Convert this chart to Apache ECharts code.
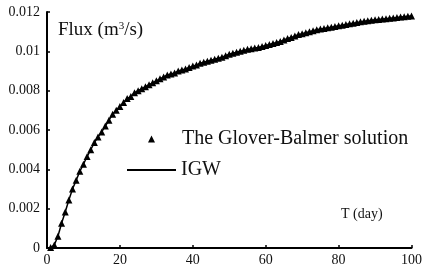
<!DOCTYPE html>
<html>
<head>
<meta charset="utf-8">
<script src="https://cdn.jsdelivr.net/npm/echarts@6/dist/echarts.min.js"></script>
<style>
    html, body { margin: 0; padding: 0; background: #fff; }
    #chart { width: 425px; height: 269px; }
</style>
</head>
<body>
<div id="chart"></div>
<script>
// time in days
const days = [
    1, 2, 3, 4, 5, 6, 7, 8, 9, 10,
    11, 12, 13, 14, 15, 16, 17, 18, 19, 20,
    21, 22, 23, 24, 25, 26, 27, 28, 29, 30,
    31, 32, 33, 34, 35, 36, 37, 38, 39, 40,
    41, 42, 43, 44, 45, 46, 47, 48, 49, 50,
    51, 52, 53, 54, 55, 56, 57, 58, 59, 60,
    61, 62, 63, 64, 65, 66, 67, 68, 69, 70,
    71, 72, 73, 74, 75, 76, 77, 78, 79, 80,
    81, 82, 83, 84, 85, 86, 87, 88, 89, 90,
    91, 92, 93, 94, 95, 96, 97, 98, 99, 100
]

// flux (m3/s), Glover-Balmer solution (IGW curve lies on top of it)
const gbFlux = [
    0.00002, 0.00015, 0.0006, 0.00126, 0.00183, 0.00244, 0.0030, 0.00344, 0.0039, 0.00426,
    0.00465, 0.0050, 0.00536, 0.00565, 0.0059, 0.0062, 0.0065, 0.0068, 0.0070, 0.0072,
    0.0074, 0.0076, 0.0077, 0.0079, 0.0080, 0.0081, 0.0082, 0.0083, 0.0084, 0.0085,
    0.0086, 0.0087, 0.0088, 0.00885, 0.0089, 0.0090, 0.00905, 0.0091, 0.00918, 0.00925,
    0.0093, 0.0094, 0.00945, 0.0095, 0.00955, 0.0096, 0.00965, 0.0097, 0.00978, 0.00985,
    0.0099, 0.00995, 0.0100, 0.01005, 0.0101, 0.01013, 0.01017, 0.0102, 0.01025, 0.0103,
    0.01035, 0.0104, 0.01045, 0.0105, 0.01058, 0.01065, 0.0107, 0.01078, 0.01085, 0.0109,
    0.01095, 0.011, 0.01105, 0.0111, 0.01113, 0.01116, 0.0112, 0.01123, 0.01126, 0.0113,
    0.01133, 0.01136, 0.0114, 0.01143, 0.01146, 0.0115, 0.01153, 0.01156, 0.01158, 0.0116,
    0.01162, 0.01164, 0.01166, 0.01168, 0.0117, 0.01172, 0.01174, 0.01176, 0.01178, 0.0118
]

const seriesNames = ['The Glover-Balmer solution', 'IGW']

let chart = echarts.init(document.querySelector('#chart'))

const serif = '"Liberation Serif", "DejaVu Serif", serif'
const points = days.map((d, i) => [d, gbFlux[i]])

const legendText = {
    fontFamily: serif,
    fontSize: 20,
    lineHeight: 20,
    color: '#111'
}

let option = {
    animation: false,
    backgroundColor: '#fff',
    textStyle: { fontFamily: serif },
    grid: {
        left: 47,
        right: 8,
        top: 12,
        bottom: 21
    },
    // two legends so each icon can have its own size
    legend: [
        {
            left: 148,
            top: 129,
            padding: 0,
            itemWidth: 7,
            itemHeight: 7,
            icon: 'triangle',
            data: [seriesNames[0]],
            itemStyle: { color: '#000', opacity: 1 },
            textStyle: Object.assign({ padding: [0, 0, 0, 22] }, legendText)
        },
        {
            left: 127,
            top: 160,
            padding: 0,
            itemWidth: 49,
            itemHeight: 2,
            icon: 'rect',
            data: [seriesNames[1]],
            itemStyle: { color: '#000', opacity: 1 },
            textStyle: legendText
        }
    ],
    xAxis: {
        type: 'value',
        min: 0,
        max: 100,
        interval: 20,
        axisLine: { lineStyle: { color: '#000', width: 2 } },
        axisTick: { inside: true, length: 3, lineStyle: { color: '#000', width: 1.5 } },
        axisLabel: { color: '#111', fontSize: 14, margin: 5, fontFamily: serif },
        splitLine: { show: false }
    },
    yAxis: {
        type: 'value',
        min: 0,
        max: 0.012,
        interval: 0.002,
        axisLine: { show: true, lineStyle: { color: '#000', width: 2 } },
        axisTick: { show: true, inside: true, length: 3, lineStyle: { color: '#000', width: 1.5 } },
        axisLabel: { color: '#111', fontSize: 14, margin: 7, fontFamily: serif },
        splitLine: { show: false }
    },
    graphic: [
        {
            type: 'text',
            left: 58,
            top: 21,
            style: {
                text: 'Flux (m{sup|3}/s)',
                fontFamily: serif,
                fontSize: 19,
                fill: '#111',
                rich: {
                    sup: { fontSize: 11, verticalAlign: 'top', padding: [0, 0, 8, 0], fontFamily: serif }
                }
            }
        },
        {
            type: 'text',
            left: 341,
            top: 207,
            style: {
                text: 'T (day)',
                fontFamily: serif,
                fontSize: 14,
                fill: '#111'
            }
        }
    ],
    series: [
        {
            name: seriesNames[1],
            type: 'line',
            data: points,
            showSymbol: false,
            symbol: 'none',
            lineStyle: { color: '#000', width: 1.5 },
            itemStyle: { color: '#000' },
            z: 2
        },
        {
            name: seriesNames[0],
            type: 'scatter',
            data: points,
            symbol: 'triangle',
            symbolSize: 7,
            itemStyle: { color: '#000', opacity: 1 },
            z: 3
        }
    ]
}

chart.setOption(option)
</script>
</body>
</html>
